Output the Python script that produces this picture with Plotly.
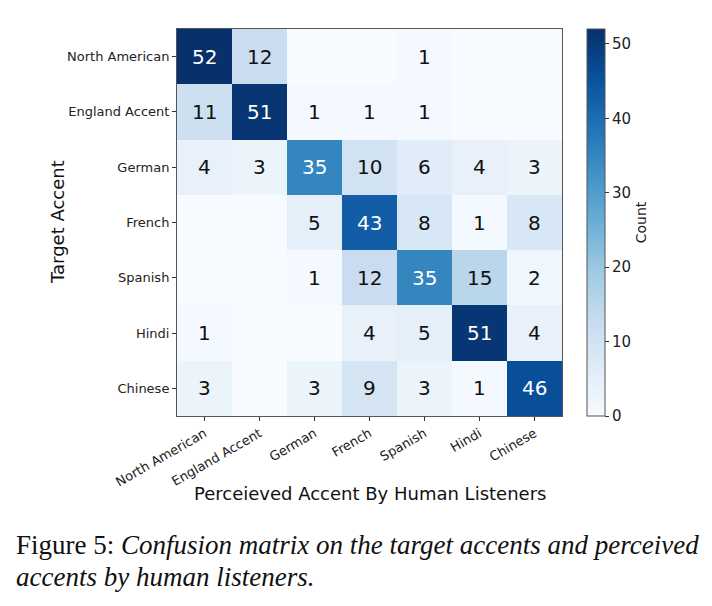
import plotly.graph_objects as go

perceived = ["North American", "England Accent", "German", "French", "Spanish", "Hindi", "Chinese"]
target = ["North American", "England Accent", "German", "French", "Spanish", "Hindi", "Chinese"]
counts = [
    [52, 12, 0, 0, 1, 0, 0],
    [11, 51, 1, 1, 1, 0, 0],
    [4, 3, 35, 10, 6, 4, 3],
    [0, 0, 5, 43, 8, 1, 8],
    [0, 0, 1, 12, 35, 15, 2],
    [1, 0, 0, 4, 5, 51, 4],
    [3, 0, 3, 9, 3, 1, 46],
]
colorbar_ticks = [0, 10, 20, 30, 40, 50]

blues = ["#f7fbff", "#deebf7", "#c6dbef", "#9ecae1", "#6baed6",
         "#4292c6", "#2171b5", "#08519c", "#08306b"]
cscale = [[i / (len(blues) - 1), c] for i, c in enumerate(blues)]

W, H = 712, 606
L, R, T, B = 177, 562, 29, 416
pw, ph = R - L, B - T

def px_x(x):
    return (x - L) / pw

def px_y(y):
    return (B - y) / ph

vmax = max(max(r) for r in counts)

fig = go.Figure()
fig.add_trace(go.Heatmap(
    z=counts, x=perceived, y=target,
    colorscale=cscale, zmin=0, zmax=vmax,
    xgap=0, ygap=0,
    colorbar=dict(
        title=dict(text="Count", side="right", font=dict(family="DejaVu Sans", size=14, color="#222")),
        tickvals=colorbar_ticks, ticks="outside", ticklen=4, tickcolor="#333",
        tickfont=dict(family="DejaVu Sans", size=15, color="#222"),
        thickness=18, len=1.0, lenmode="fraction", y=0.5, yanchor="middle",
        x=px_x(587), xanchor="left", xpad=0, ypad=0,
        outlinewidth=1, outlinecolor="#555",
    ),
    hoverinfo="skip",
))

for i, row in enumerate(counts):
    for j, v in enumerate(row):
        if v == 0:
            continue
        fig.add_annotation(
            x=perceived[j], y=target[i], text=str(v), showarrow=False,
            font=dict(family="DejaVu Sans", size=20, color="white" if v > vmax / 2 else "#111"),
        )

fig.add_annotation(
    xref="paper", yref="paper", x=px_x(58), y=px_y(222),
    text="Target Accent", textangle=-90, showarrow=False,
    font=dict(family="DejaVu Sans", size=18, color="#111"),
    xanchor="center", yanchor="middle",
)
fig.add_annotation(
    xref="paper", yref="paper", x=0.5, y=px_y(493),
    text="Perceieved Accent By Human Listeners", showarrow=False,
    font=dict(family="DejaVu Sans", size=18, color="#111"),
    xanchor="center", yanchor="middle",
)
fig.add_annotation(
    xref="paper", yref="paper", x=px_x(14), y=px_y(545),
    text="Figure 5: <i>Confusion matrix on the target accents and perceived</i>",
    showarrow=False, xanchor="left", yanchor="middle",
    font=dict(family="Liberation Serif", size=27, color="#111"),
)
fig.add_annotation(
    xref="paper", yref="paper", x=px_x(14), y=px_y(577),
    text="<i>accents by human listeners.</i>",
    showarrow=False, xanchor="left", yanchor="middle",
    font=dict(family="Liberation Serif", size=27, color="#111"),
)

fig.update_xaxes(
    tickangle=-30, ticks="outside", ticklen=4, tickcolor="#333",
    tickfont=dict(family="DejaVu Sans", size=13, color="#222"),
    showline=True, mirror=True, linecolor="#555", linewidth=1,
    showgrid=False, zeroline=False,
)
fig.update_yaxes(
    autorange="reversed", ticks="outside", ticklen=4, tickcolor="#333",
    tickfont=dict(family="DejaVu Sans", size=13, color="#222"),
    showline=True, mirror=True, linecolor="#555", linewidth=1,
    showgrid=False, zeroline=False,
)
fig.update_layout(
    width=W, height=H,
    margin=dict(l=L, r=W - R, t=T, b=H - B),
    paper_bgcolor="white", plot_bgcolor="white",
    showlegend=False,
)
fig.write_html("out.html")
